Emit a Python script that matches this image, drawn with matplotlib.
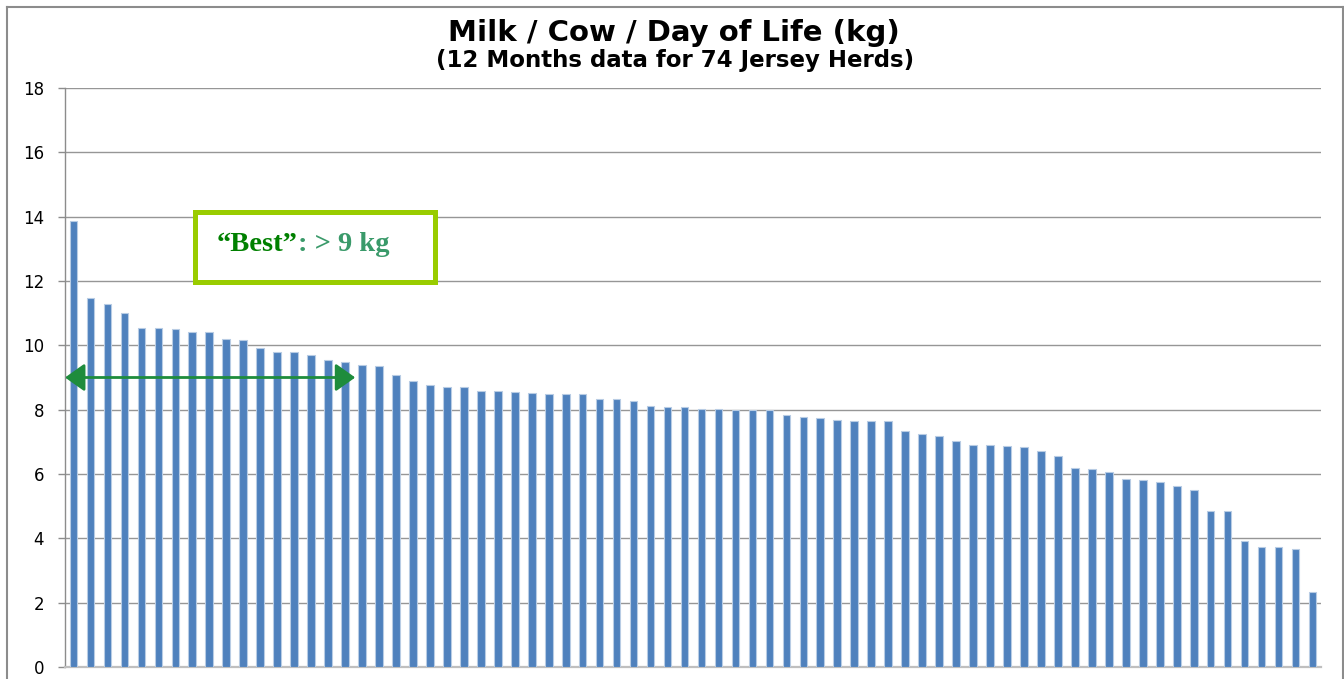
"""Milk / Cow / Day of Life bar chart."""

import matplotlib
matplotlib.use('Agg')
import matplotlib.pyplot as plt
from matplotlib.patches import Rectangle, FancyArrowPatch
from matplotlib.lines import Line2D
from matplotlib.text import Annotation

# herds ranked by milk per cow per day of life (kg)
herds = list(range(1, 75))
milk_kg = [13.87, 11.48, 11.28, 10.99, 10.53, 10.53, 10.50, 10.42, 10.42, 10.21,
           10.16, 9.92, 9.78, 9.78, 9.69, 9.53, 9.49, 9.38, 9.35, 9.09,
           8.89, 8.77, 8.70, 8.70, 8.58, 8.58, 8.55, 8.52, 8.49, 8.49,
           8.49, 8.32, 8.32, 8.26, 8.10, 8.07, 8.07, 8.01, 8.01, 7.98,
           7.98, 7.98, 7.84, 7.77, 7.74, 7.68, 7.65, 7.65, 7.65, 7.33,
           7.23, 7.17, 7.02, 6.91, 6.91, 6.88, 6.85, 6.72, 6.56, 6.18,
           6.14, 6.05, 5.83, 5.80, 5.74, 5.64, 5.51, 4.85, 4.85, 3.91,
           3.72, 3.72, 3.66, 2.32]
y_ticks = [0, 2, 4, 6, 8, 10, 12, 14, 16, 18]
best_threshold = 9.0
best_last_herd = 17.1  # arrow spans the "best" herds

W, H = 1344, 679
fig = plt.figure(figsize=(W / 100, H / 100), dpi=100)
ax = fig.add_axes([65 / W, 1 - 667 / H, (1321 - 65) / W, (667 - 88) / H])

x_pos = range(len(herds))
ax.bar(x_pos, milk_kg, width=0.45, color='#4F81BD', edgecolor='#B8CCE4',
       linewidth=0.8, zorder=3)

ax.set_xlim(-0.5, len(herds) - 0.5)
ax.set_ylim(0, 18)
ax.set_yticks(y_ticks)
ax.set_xticks([])
ax.grid(axis='y', color='#969696', linewidth=1.0, zorder=0)
for side in ['top', 'right']:
    ax.spines[side].set_visible(False)
ax.spines['left'].set_color('#8C8C8C')
ax.spines['left'].set_linewidth(1.0)
ax.spines['bottom'].set_color('#BFBFBF')
ax.spines['bottom'].set_linewidth(1.6)
ax.tick_params(axis='y', length=5, width=1, color='#8C8C8C', pad=10,
               labelsize=12, labelcolor='black')
for lab in ax.get_yticklabels():
    lab.set_fontfamily('DejaVu Sans')

# "best" arrow
arrow = FancyArrowPatch((-0.5, best_threshold), (best_last_herd - 0.5, best_threshold),
                        arrowstyle='<|-|>,head_length=12,head_width=8.5',
                        mutation_scale=1, shrinkA=0, shrinkB=0,
                        color='#1E8C3C', facecolor='#3A9A5B', linewidth=2.0,
                        zorder=5, clip_on=False)
ax.add_patch(arrow)

# annotation box
fig.patches.append(Rectangle((195.2 / W, 1 - 281.8 / H), (434.8 - 195.2) / W,
                             (281.8 - 211.5) / H, transform=fig.transFigure,
                             facecolor='white', edgecolor='#99CC00',
                             linewidth=3.6, zorder=6))
t1 = fig.text(217 / W, 1 - 251 / H, '\u201cBest\u201d', fontsize=20.5,
              family='Liberation Serif', weight='bold', color='#008000',
              va='baseline', ha='left', zorder=7)
t2 = Annotation(': > 9 kg', xy=(1, 0), xycoords=t1, va='bottom', ha='left',
                fontsize=20.5, family='Liberation Serif', weight='bold',
                color='#3A9A6A', zorder=7, annotation_clip=False)
fig.add_artist(t2)

# titles
fig.text(674 / W, 1 - 33 / H, 'Milk / Cow / Day of Life (kg)', fontsize=21,
         family='DejaVu Sans', weight='bold', ha='center', va='center')
fig.text(675 / W, 1 - 61 / H, '(12 Months data for 74 Jersey Herds)', fontsize=16.5,
         family='DejaVu Sans', weight='bold', ha='center', va='center')

# chart frame
frame = dict(color='#8C8C8C', linewidth=1.5, transform=fig.transFigure)
fig.lines.append(Line2D([7 / W, 7 / W], [0, 1 - 6.5 / H], **frame))
fig.lines.append(Line2D([7 / W, 1342.5 / W], [1 - 6.5 / H, 1 - 6.5 / H], **frame))
fig.lines.append(Line2D([1342.5 / W, 1342.5 / W], [0, 1 - 6.5 / H], **frame))

fig.savefig('out.png', dpi=100)
